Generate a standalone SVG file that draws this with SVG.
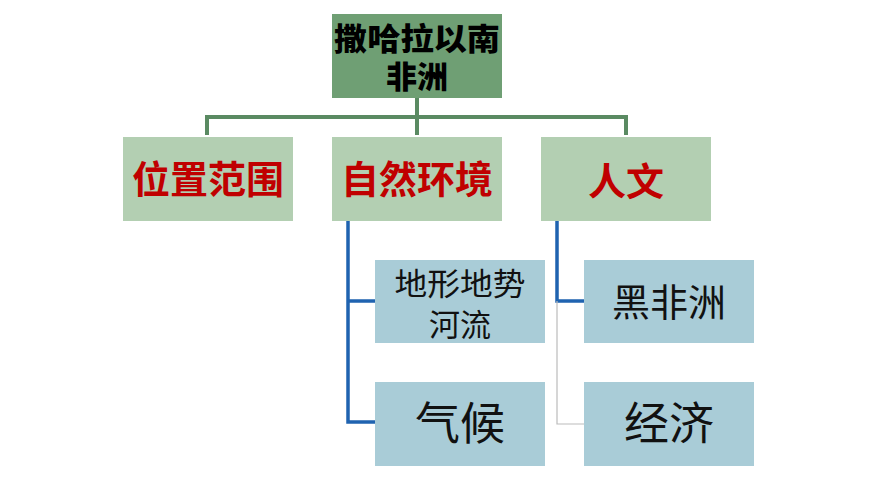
<svg xmlns="http://www.w3.org/2000/svg" width="870" height="489" viewBox="0 0 870 489">
<style>
text{font-family:"Noto Sans CJK SC",sans-serif;text-anchor:middle}
.l2{fill:#b3cfb2}.l3{fill:#a9ccd7}
.t2{fill:#c00000;font-weight:bold;font-size:38px}
.t3{fill:#111}
</style>
<rect width="870" height="489" fill="#fff"/>
<g id="connectors" fill="none">
<path d="M417 98V135M207 135V117H626V135" stroke="#5a8a62" stroke-width="4"/>
<path d="M348 221V422H375M348 301H375M557 221V301H584" stroke="#1f63b0" stroke-width="3.5"/>
<path d="M557 301V424H584" stroke="#bbbbbb" stroke-width="1.2"/>
</g>
<g id="root"><rect x="332" y="14" width="170" height="84" fill="#6f9f74"/>
<text x="417" y="50" font-size="31" font-weight="900" fill="#000" textLength="166" lengthAdjust="spacingAndGlyphs">撒哈拉以南</text>
<text x="417" y="88" font-size="31" font-weight="900" fill="#000">非洲</text></g>
<g id="n1"><rect class="l2" x="123" y="137" width="170" height="84"/><text class="t2" x="208" y="193">位置范围</text></g>
<g id="n2"><rect class="l2" x="332" y="137" width="170" height="84"/><text class="t2" x="417" y="193">自然环境</text></g>
<g id="n3"><rect class="l2" x="541" y="137" width="170" height="84"/><text class="t2" x="626" y="195" font-size="42">人文</text></g>
<g id="n4"><rect class="l3" x="375" y="260" width="170" height="83"/>
<text x="460" y="295" font-size="31" fill="#111" textLength="131" lengthAdjust="spacingAndGlyphs">地形地势</text><text x="460" y="336" font-size="31" fill="#111">河流</text></g>
<g id="n5"><rect class="l3" x="375" y="382" width="170" height="84"/><text class="t3" x="460" y="440" font-size="45">气候</text></g>
<g id="n6"><rect class="l3" x="584" y="260" width="170" height="83"/><text class="t3" x="669" y="316" font-size="38">黑非洲</text></g>
<g id="n7"><rect class="l3" x="584" y="382" width="170" height="84"/><text class="t3" x="669" y="440" font-size="45">经济</text></g>
</svg>
